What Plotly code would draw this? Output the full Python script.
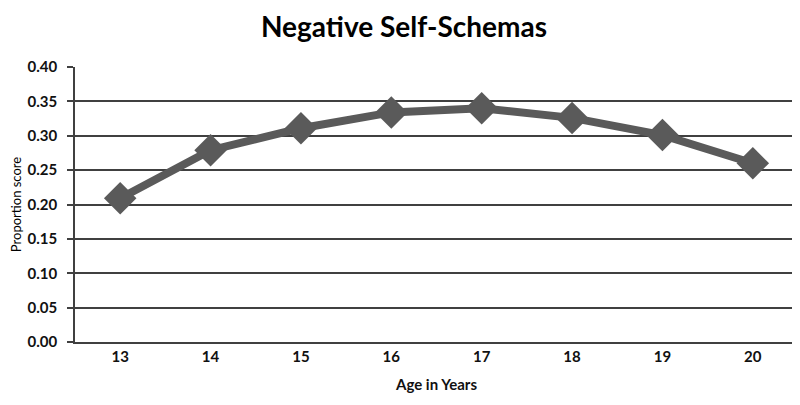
import plotly.graph_objects as go

ages = ['13', '14', '15', '16', '17', '18', '19', '20']
scores = [0.209, 0.279, 0.311, 0.334, 0.340, 0.326, 0.301, 0.260]
y_ticks = [0.0, 0.05, 0.10, 0.15, 0.20, 0.25, 0.30, 0.35, 0.40]

FONT = "Lato"

fig = go.Figure(go.Scatter(
    x=ages, y=scores,
    mode="lines+markers",
    line=dict(color="#5a5a5a", width=8),
    marker=dict(symbol="diamond", size=25, color="#5a5a5a"),
    showlegend=False
))

# page body adds 8px, so the figure is 8px smaller and margins compensate
fig.update_layout(
    width=792, height=397,
    paper_bgcolor="white", plot_bgcolor="white",
    margin=dict(l=67, r=2, t=59, b=63),
    title=dict(text="<b>Negative Self-Schemas</b>", x=0.5, xanchor="center",
               y=0.951, yanchor="middle", yref="container", automargin=False,
               font=dict(family=FONT, size=28, color="#000")),
    font=dict(family=FONT, color="#111"),
)

fig.update_xaxes(
    type="category", range=[-0.5, 7.5], automargin=False,
    showgrid=False, showline=True, linecolor="#404040", linewidth=1.5,
    ticks="", tickfont=dict(size=15, family=FONT, weight="bold"),
    title=dict(text="<b>Age in Years</b>", font=dict(size=15), standoff=16),
)

fig.update_yaxes(
    range=[0, 0.40], tickvals=y_ticks, tickformat=".2f", automargin=False,
    showgrid=True, gridcolor="#404040", gridwidth=1.5,
    showline=True, linecolor="#404040", linewidth=1.5,
    ticks="outside", ticklen=6, tickcolor="#404040", tickwidth=1.5,
    tickfont=dict(size=15, family=FONT, weight="bold"),
    ticklabelstandoff=7,
    zeroline=False,
    title=dict(text="Proportion score", font=dict(size=13, color="#000"), standoff=14),
)

fig.write_html("out.html")
